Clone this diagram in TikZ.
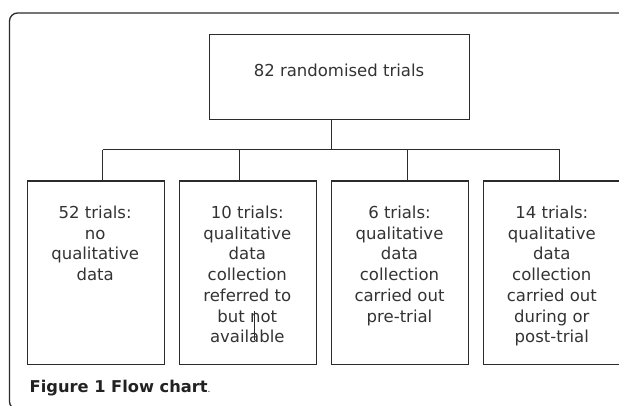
\documentclass[tikz,border=0pt]{standalone}
\usepackage{fontspec}
\setmainfont{DejaVu Sans}
\definecolor{linec}{HTML}{2B2B2B}
\definecolor{textc}{HTML}{333333}
\definecolor{capc}{HTML}{222222}
\begin{document}
\begin{tikzpicture}[x=1pt,y=-1pt,
  box/.style={draw=linec, line width=1.1pt, minimum width=137pt, minimum height=183pt, anchor=north west, inner sep=0pt},
  txt/.style={anchor=north, align=center, inner sep=0pt, font=\fontsize{16.5}{20.7}\selectfont, text=textc},
  conn/.style={draw=linec, line width=1pt},
  frame/.style={draw=linec, line width=1.3pt, rounded corners=8pt}]
\useasboundingbox (0,0) rectangle (619,406);
% outer frame
\draw[frame] (630,13) -- (9.5,13) -- (9.5,409.5) -- (120,409.5);
% top box
\node[box, minimum width=260pt, minimum height=85pt] (top) at (209,34) {};
\node[txt, anchor=base] (toptxt) at (339,77) {82 randomised trials};
% boxes
\node[box] (b1) at (26.7,180.5) {};
\node[box] (b2) at (178.7,180.5) {};
\node[box] (b3) at (331,180.5) {};
\node[box] (b4) at (483.3,180.5) {};
\node[txt] (t1) at (95.2,205.8) {52 trials:\\no\\qualitative\\data};
\node[txt] (t2) at (247.3,205.8) {10 trials:\\qualitative\\data\\collection\\referred to\\but not\\available};
\node[txt] (t3) at (399.5,205.8) {6 trials:\\qualitative\\data\\collection\\carried out\\pre-trial};
\node[txt] (t4) at (551.8,205.8) {14 trials:\\qualitative\\data\\collection\\carried out\\during or\\post-trial};
% junctions
\coordinate (j0) at (331,150);
\coordinate (j1) at (102.7,150);
\coordinate (j2) at (239.5,150);
\coordinate (j3) at (407.3,150);
\coordinate (j4) at (559.6,150);
\draw[conn] (top.south -| j0) -- (j0);
\draw[conn] (j1) -- (j4);
\draw[conn] (j1) -- (b1.north -| j1);
\draw[conn] (j2) -- (b2.north -| j2);
\draw[conn] (j3) -- (b3.north -| j3);
\draw[conn] (j4) -- (b4.north -| j4);
% text cursor artefact
\draw[linec, line width=1.4pt] (254.3,311) -- (254.3,340);
% caption
\node[anchor=base west, inner sep=0pt, text=capc, font=\bfseries\fontsize{16.25}{18}\selectfont] (cap) at (29.5,392) {Figure 1 Flow chart\textmd{\fontsize{9}{10}\selectfont.}};
\end{tikzpicture}
\end{document}
